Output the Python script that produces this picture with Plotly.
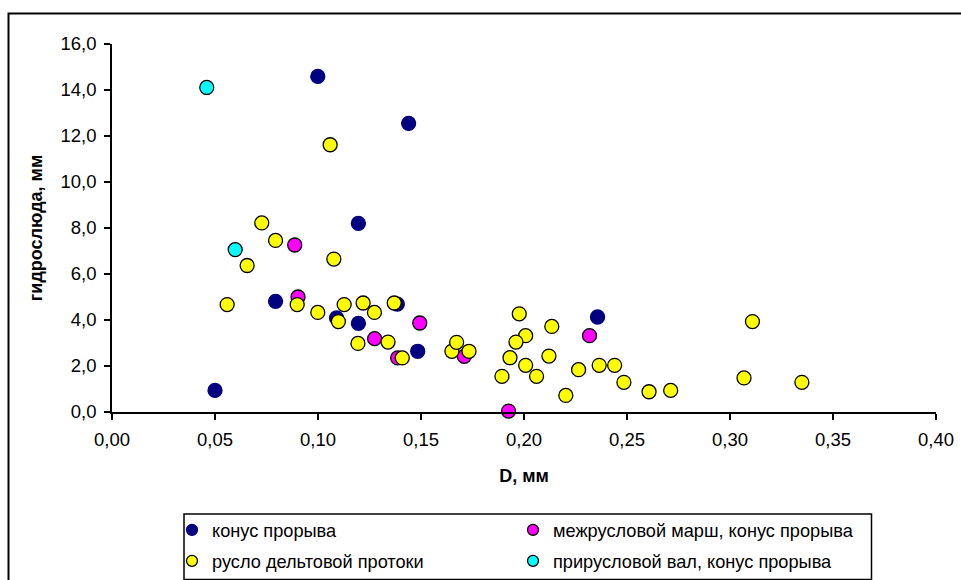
import plotly.graph_objects as go

# ---- data ----
konus_x = [0.0999, 0.144, 0.1196, 0.0794, 0.109, 0.1196, 0.1385, 0.1484, 0.050, 0.2357]
konus_y = [14.59, 12.55, 8.20, 4.81, 4.09, 3.85, 4.69, 2.64, 0.94, 4.13]

marsh_x = [0.0887, 0.0903, 0.1275, 0.1494, 0.1387, 0.171, 0.2318, 0.1925]
marsh_y = [7.26, 5.00, 3.19, 3.87, 2.35, 2.42, 3.32, 0.04]

ruslo_x = [0.1059, 0.0727, 0.0794, 0.0656, 0.1077, 0.0559, 0.0899, 0.0999, 0.1099,
           0.1127, 0.1219, 0.1274, 0.137, 0.1194, 0.134, 0.1409, 0.165, 0.1673, 0.1733,
           0.1977, 0.2135, 0.2008, 0.1961, 0.1932, 0.2121, 0.2008, 0.1893, 0.2061,
           0.2265, 0.2365, 0.244, 0.2203, 0.2485, 0.2607, 0.2712, 0.3068, 0.3109, 0.3349]
ruslo_y = [11.62, 8.22, 7.46, 6.37, 6.65, 4.67, 4.67, 4.33, 3.93,
           4.67, 4.74, 4.33, 4.74, 2.98, 3.04, 2.35, 2.64, 3.03, 2.64,
           4.27, 3.72, 3.32, 3.04, 2.36, 2.43, 2.03, 1.55, 1.55,
           1.84, 2.03, 2.03, 0.72, 1.29, 0.88, 0.94, 1.48, 3.93, 1.29]

val_x = [0.046, 0.0598]
val_y = [14.11, 7.06]

names = ["конус прорыва", "межрусловой марш, конус прорыва",
         "русло дельтовой протоки", "прирусловой вал, конус прорыва"]
colors = ["#000080", "#FF00FF", "#FFFF00", "#00FFFF"]
edge = ["#000080", "#000000", "#000000", "#000000"]

x_title = "D, мм"
y_title = "гидрослюда, мм"

FONT = "Liberation Sans, Arial, sans-serif"

fig = go.Figure()

series = [(konus_x, konus_y), (marsh_x, marsh_y), (ruslo_x, ruslo_y), (val_x, val_y)]
for i, (xs, ys) in enumerate(series):
    fig.add_trace(go.Scatter(
        x=xs, y=ys, mode="markers", name=names[i], showlegend=False,
        legendgroup=str(i), cliponaxis=False,
        marker=dict(size=14, color=colors[i], line=dict(color=edge[i], width=1.3)),
    ))

# legend entries (two rows, two columns)
legend_for = ["legend", "legend", "legend2", "legend2"]
for i in range(4):
    fig.add_trace(go.Scatter(
        x=[None], y=[None], mode="markers", name=names[i], showlegend=True,
        legendgroup=str(i), legend=legend_for[i],
        marker=dict(size=11, color=colors[i], line=dict(color=edge[i], width=1.3)),
    ))

L, R, T, B = 112, 25, 44, 168
W, H = 961, 580
pw, ph = W - L - R, H - T - B

def px_x(p):
    return (p - L) / pw

def px_y(p):
    return (H - B - p) / ph

legend_common = dict(
    orientation="h", xanchor="left", yanchor="middle",
    xref="container", yref="container",
    font=dict(family=FONT, size=18.2, color="black"),
    bgcolor="rgba(0,0,0,0)", borderwidth=0,
    entrywidth=296, entrywidthmode="pixels",
    itemwidth=30,
)

fig.update_layout(
    width=W, height=H,
    margin=dict(l=L, r=R, t=T, b=B, autoexpand=False),
    paper_bgcolor="white", plot_bgcolor="white",
    separators=", ",
    font=dict(family=FONT, size=18, color="black"),
    legend=dict(x=172 / W, y=(H - 530) / H, **legend_common),
    legend2=dict(x=172 / W, y=(H - 561) / H, **legend_common),
    xaxis=dict(
        range=[0, 0.4], dtick=0.05, tick0=0, tickformat=".2f",
        showline=True, linecolor="black", linewidth=1.5,
        ticks="outside", ticklen=6, tickwidth=1.5, tickcolor="black",
        ticklabelstandoff=4,
        showgrid=False, zeroline=False,
        tickfont=dict(family=FONT, size=18.5, color="black"),
        title=dict(text="<b>" + x_title + "</b>", standoff=20,
                   font=dict(family=FONT, size=18, color="black")),
    ),
    yaxis=dict(
        range=[0, 16], dtick=2, tick0=0, tickformat=".1f",
        showline=True, linecolor="black", linewidth=1.5,
        ticks="outside", ticklen=6, tickwidth=1.5, tickcolor="black",
        ticklabelstandoff=4,
        showgrid=False, zeroline=False,
        tickfont=dict(family=FONT, size=18.5, color="black"),
        title=dict(text="<b>" + y_title + "</b>", standoff=13,
                   font=dict(family=FONT, size=18, color="black")),
    ),
    shapes=[
        dict(type="rect", xref="paper", yref="paper",
             x0=px_x(8.5), x1=px_x(1100), y0=px_y(650), y1=px_y(13.5),
             line=dict(color="black", width=2), fillcolor="rgba(0,0,0,0)", layer="above"),
        dict(type="rect", xref="paper", yref="paper",
             x0=px_x(184), x1=px_x(871.5), y0=px_y(579.5), y1=px_y(514),
             line=dict(color="black", width=1.5), fillcolor="rgba(0,0,0,0)", layer="above"),
    ],
)

fig.write_html("out.html")
